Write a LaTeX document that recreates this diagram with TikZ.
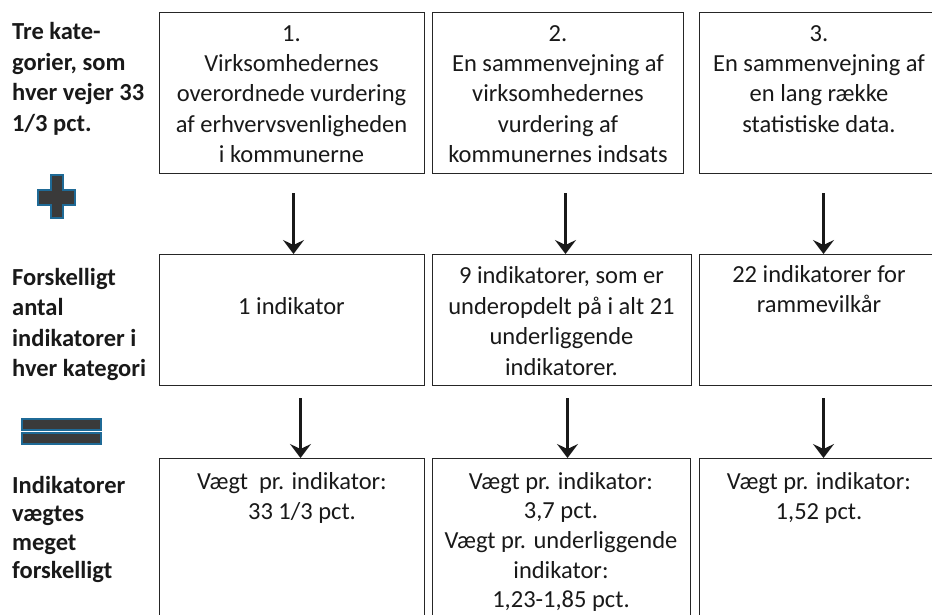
\documentclass[tikz,border=0pt]{standalone}
\usepackage{fontspec}
\setmainfont{Carlito}
\usetikzlibrary{arrows.meta}

\begin{document}
\begin{tikzpicture}[x=1pt,y=-1pt,
    box/.style={draw=black!85, line width=1pt, anchor=north west, inner sep=0pt},
    boxtext/.style={anchor=base, align=center, inner sep=0pt, text=black!90, font=\fontsize{24.5}{30.5}\selectfont},
    lefttext/.style={anchor=base west, align=left, inner sep=0pt, text=black!90, font=\fontsize{24.5}{30.5}\selectfont\bfseries},
    arr/.style={-{Stealth[length=14pt,width=21pt,inset=5pt]}, line width=3pt, black!90}]

    % Define colors
    \definecolor{signfill}{RGB}{58,58,58}   % Dark grey for the signs
    \definecolor{signedge}{RGB}{31,106,150} % Blue outline

    \useasboundingbox (0,0) rectangle (932,615);

    % Draw the boxes, row 1
    \node[box, minimum width=265pt, minimum height=161pt] (b11) at (159,12) {};
    \node[box, minimum width=251pt, minimum height=161pt] (b12) at (432,12) {};
    \node[box, minimum width=245pt, minimum height=161pt] (b13) at (699,12) {};

    % Draw the boxes, row 2
    \node[box, minimum width=265pt, minimum height=131pt] (b21) at (159,254) {};
    \node[box, minimum width=259pt, minimum height=131pt] (b22) at (432,254) {};
    \node[box, minimum width=245pt, minimum height=131pt] (b23) at (699,254) {};

    % Draw the boxes, row 3
    \node[box, minimum width=265pt, minimum height=170pt] (b31) at (159,458) {};
    \node[box, minimum width=258pt, minimum height=170pt] (b32) at (432,458) {};
    \node[box, minimum width=245pt, minimum height=170pt] (b33) at (699,458) {};

    % Add box texts (placed at the baseline of the last line)
    \node[boxtext] (t11) at (291.5,163) {1.\\Virksomhedernes\\overordnede vurdering\\af erhvervsvenligheden\\i kommunerne};
    \node[boxtext] (t12) at (558,163) {2.\\En sammenvejning af\\virksomhedernes\\vurdering af\\kommunernes indsats};
    \node[boxtext] (t13) at (819,132.5) {3.\\En sammenvejning af\\en lang række\\statistiske data.};
    \node[boxtext] (t21) at (291.5,314) {1 indikator};
    \node[boxtext] (t22) at (561.5,375) {9 indikatorer, som er\\underopdelt på i alt 21\\underliggende\\indikatorer.};
    \node[boxtext] (t23) at (819,312.5) {22 indikatorer for\\rammevilkår};
    \node[boxtext] (t31) at (292,519.5) {Vægt\ \ pr. indikator:\\\hspace*{20pt}33 1/3 pct.};
    \node[boxtext, font=\fontsize{24.5}{29.7}\selectfont] (t32) at (561,607.8) {Vægt pr. indikator:\\3,7 pct.\\Vægt pr. underliggende\\indikator:\\1,23-1,85 pct.};
    \node[boxtext] (t33) at (819,519.5) {Vægt pr. indikator:\\1,52 pct.};

    % Add left labels
    \node[lefttext] (l1) at (12,131.5) {Tre kate-\\gorier, som\\hver vejer 33\\1/3 pct.};
    \node[lefttext] (l2) at (12,376.5) {Forskelligt\\antal\\indikatorer i\\hver kategori};
    \node[lefttext, font=\fontsize{24.5}{28.5}\selectfont\bfseries] (l3) at (12,578.5) {Indikatorer\\vægtes\\meget\\forskelligt};

    % Draw the plus sign
    \filldraw[fill=signfill, draw=signedge, line width=1.5pt]
        (51,175) -- (63,175) -- (63,190) -- (75,190) -- (75,205) -- (63,205)
        -- (63,218) -- (51,218) -- (51,205) -- (38,205) -- (38,190) -- (51,190) -- cycle;

    % Draw the equals sign
    \filldraw[fill=signfill, draw=signedge, line width=1.5pt] (22,419) rectangle (101,430);
    \filldraw[fill=signfill, draw=signedge, line width=1.5pt] (22,433) rectangle (101,444);

    % Draw the arrows, row 1 to row 2
    \draw[arr, shorten <=19pt] ([xshift=1.5pt]b11.south) -- ([xshift=1.5pt]b11.south |- b21.north);
    \draw[arr, shorten <=19pt] ([xshift=7.5pt]b12.south) -- ([xshift=7.5pt]b12.south |- b22.north);
    \draw[arr, shorten <=19pt] ([xshift=1.5pt]b13.south) -- ([xshift=1.5pt]b13.south |- b23.north);

    % Draw the arrows, row 2 to row 3
    \draw[arr, shorten <=12pt] ([xshift=8.5pt]b21.south) -- ([xshift=8.5pt]b21.south |- b31.north);
    \draw[arr, shorten <=12pt] ([xshift=5.5pt]b22.south) -- ([xshift=5.5pt]b22.south |- b32.north);
    \draw[arr, shorten <=12pt] ([xshift=1.5pt]b23.south) -- ([xshift=1.5pt]b23.south |- b33.north);

\end{tikzpicture}
\end{document}
